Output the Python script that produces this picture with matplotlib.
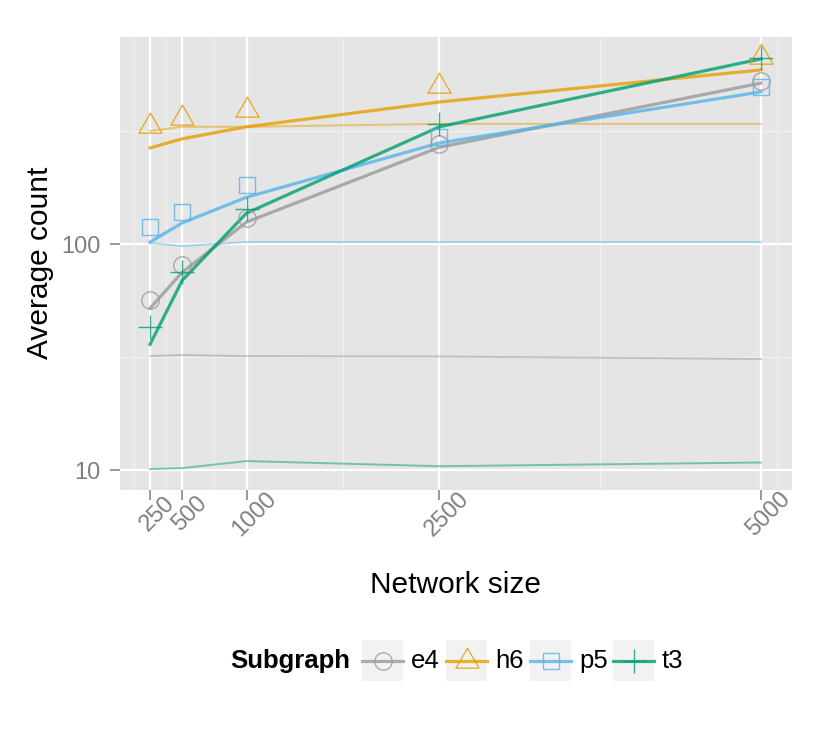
import numpy as np
import matplotlib.pyplot as plt
from matplotlib.path import Path
from matplotlib.patches import Rectangle
from matplotlib.lines import Line2D

plt.rcParams['font.family'] = ['Liberation Sans', 'DejaVu Sans']

# --- donnees ---
sizes = [250, 500, 1000, 2500, 5000]
subgraphs = ['e4', 'h6', 'p5', 't3']

# points observes (marqueurs)
e4_obs = [56.5, 80.7, 130, 278, 526]
h6_obs = [332, 360, 393, 501, 671]
p5_obs = [119, 139, 182, 297, 495]
t3_obs = [43, 75, 143, 340, 665]

# courbe epaisse
e4_fit = [52, 75, 125, 268, 515]
h6_fit = [266, 292, 330, 425, 589]
p5_fit = [102, 124, 161, 280, 471]
t3_fit = [36, 69, 137, 330, 659]

# courbe fine (reference)
e4_base = [31.9, 32.3, 31.9, 31.8, 31.0]
h6_base = [316, 330, 330, 340, 340]
p5_base = [101, 98, 102, 102, 102]
t3_base = [10.1, 10.2, 10.96, 10.4, 10.8]

x_breaks = [250, 500, 1000, 2500, 5000]
x_minor = [125, 375, 750, 1750, 3750, 5125]
y_breaks = [10, 100]
y_minor = [10 ** 0.5 * 10, 10 ** 0.5 * 100]

colors = {'e4': '#999999', 'h6': '#E69F00', 'p5': '#56B4E9', 't3': '#009E73'}

tri = Path([(0, 1), (-0.866, -0.5), (0.866, -0.5), (0, 1)], closed=True)
markers = {'e4': ('o', 12.5), 'h6': (tri, 19.2), 'p5': ('s', 12.2), 't3': ('+', 17.5)}

obs = {'e4': e4_obs, 'h6': h6_obs, 'p5': p5_obs, 't3': t3_obs}
fit = {'e4': e4_fit, 'h6': h6_fit, 'p5': p5_fit, 't3': t3_fit}
base = {'e4': e4_base, 'h6': h6_base, 'p5': p5_base, 't3': t3_base}

W, H = 830, 738
fig = plt.figure(figsize=(W / 100, H / 100), dpi=100)
ax = fig.add_axes([119.5 / W, 1 - 489.5 / H, (791.5 - 119.5) / W, (489.5 - 36.5) / H])
ax.set_facecolor('#E5E5E5')
ax.set_yscale('log')
ax.set_xlim(12.5, 5237.5)
ax.set_ylim(10 ** 0.914, 10 ** 2.918)

# grille
for v in x_minor:
    ax.axvline(v, color='#F2F2F2', lw=0.8, zorder=0.5)
for v in y_minor:
    ax.axhline(v, color='#F2F2F2', lw=0.8, zorder=0.5)
for v in x_breaks:
    ax.axvline(v, color='white', lw=1.6, zorder=0.6)
for v in y_breaks:
    ax.axhline(v, color='white', lw=1.6, zorder=0.6)

for s in subgraphs:
    ax.plot(sizes, base[s], color=colors[s], lw=1.4, alpha=0.5, zorder=2)
for s in subgraphs:
    ax.plot(sizes, fit[s], color=colors[s], lw=2.3, alpha=0.8, zorder=3)
for s in subgraphs:
    m, ms = markers[s]
    ax.plot(sizes, obs[s], linestyle='none', marker=m, markersize=ms,
            markerfacecolor='none', markeredgecolor=colors[s], markeredgewidth=1.0,
            alpha=0.8, zorder=4)

for sp in ax.spines.values():
    sp.set_visible(False)
ax.set_xticks(x_breaks)
ax.set_xticklabels([str(v) for v in x_breaks], rotation=45, ha='center', va='top',
                   rotation_mode='anchor')
ax.set_xticks([], minor=True)
ax.set_yticks(y_breaks)
ax.set_yticklabels(['10', '100'])
ax.set_yticks([], minor=True)
ax.tick_params(axis='both', colors='#7F7F7F', labelcolor='#7F7F7F', labelsize=17,
               length=7, width=1.1)
ax.tick_params(axis='x', pad=5)
ax.tick_params(axis='y', pad=6.5)

# titres des axes
fig.text(455.5 / W, 1 - 585 / H, 'Network size', fontsize=21.5, ha='center', va='center')
fig.text(40 / W, 1 - 263 / H, 'Average count', fontsize=21.5, rotation=90,
         ha='center', va='center')

# legende en bas
lax = fig.add_axes([0, 0, 1, 1])
lax.set_xlim(0, W)
lax.set_ylim(H, 0)
lax.axis('off')
lax.text(230, 661, 'Subgraph', fontsize=18.5, fontweight='bold', ha='left', va='center')
key_x = [362, 446, 530, 613]
for s, kx in zip(subgraphs, key_x):
    c = colors[s]
    m, ms = markers[s]
    lax.add_patch(Rectangle((kx, 640), 41, 41, facecolor='#F2F2F2', edgecolor='none'))
    lax.add_line(Line2D([kx, kx + 41], [660.5, 660.5], color=c, lw=2.3, alpha=0.8))
    lax.add_line(Line2D([kx + 20.5], [660.5], marker=m, markersize=ms, linestyle='none',
                        markerfacecolor='none', markeredgecolor=c, markeredgewidth=1.0,
                        alpha=0.8))
    lax.text(kx + 49, 661, s, fontsize=18.5, ha='left', va='center')

fig.savefig('out.png', dpi=100)
